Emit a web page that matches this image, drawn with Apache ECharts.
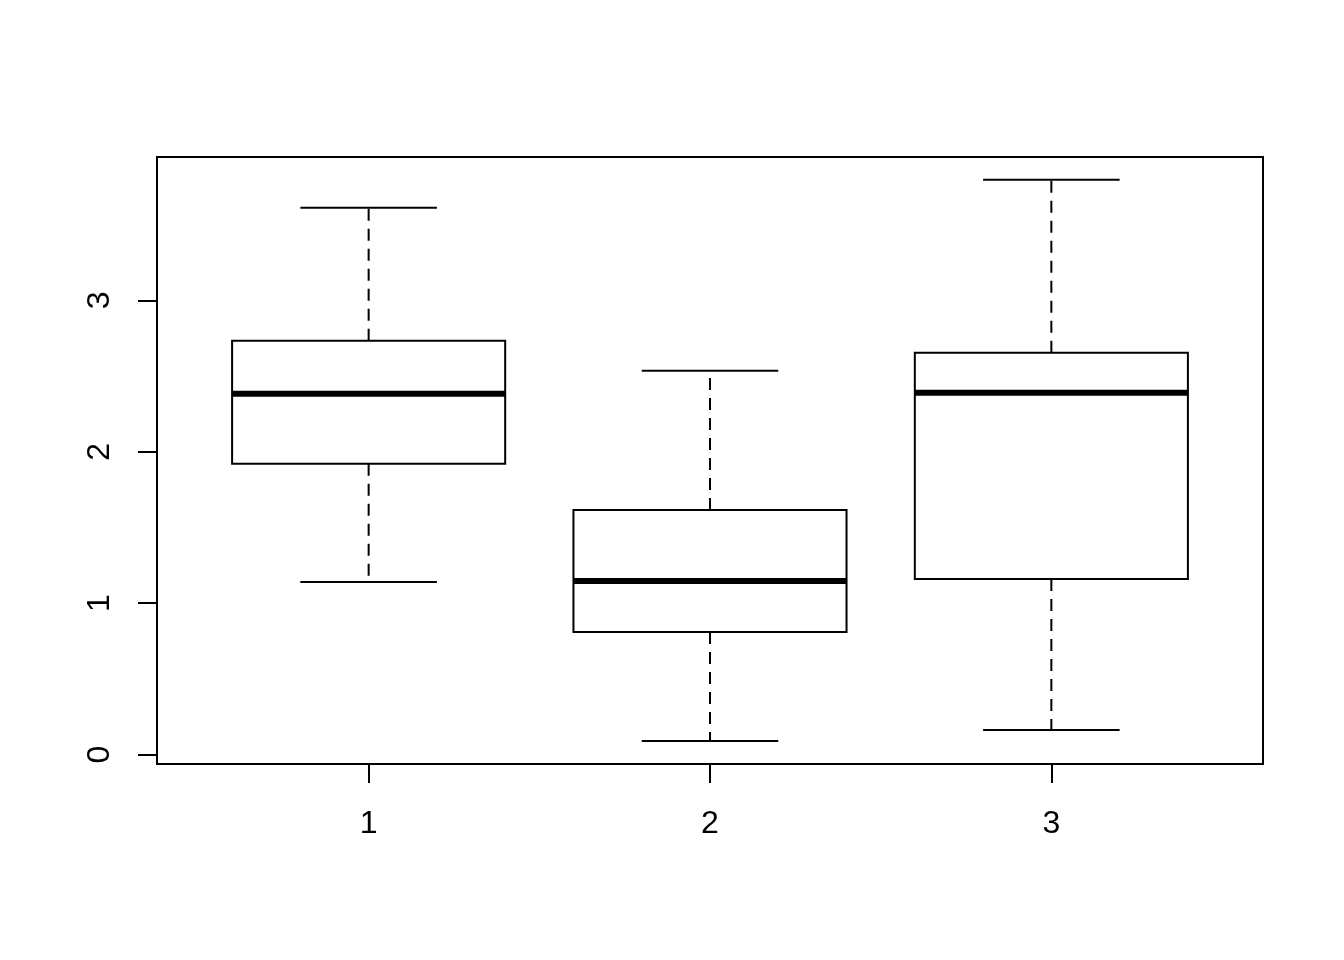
<!DOCTYPE html>
<html>
<head>
<meta charset="utf-8">
<script src="https://cdn.jsdelivr.net/npm/echarts@6/dist/echarts.min.js"></script>
<style>html,body{margin:0;padding:0;background:#fff}#c{width:1344px;height:960px}</style>
</head>
<body>
<div id="c"></div>
<script>
const categories = [1, 2, 3];
const whiskerLow = [1.140, 0.089, 0.162];
const q1 = [1.920, 0.810, 1.160];
const medians = [2.383, 1.147, 2.389];
const q3 = [2.733, 1.616, 2.654];
const whiskerHigh = [3.612, 2.535, 3.797];
const yTicks = [0, 1, 2, 3];

const data = categories.map((c, i) => [c, whiskerLow[i], q1[i], medians[i], q3[i], whiskerHigh[i]]);
const font = "'Liberation Sans', Arial, Helvetica, sans-serif";

const chart = echarts.init(document.getElementById('c'), null, {renderer: 'canvas'});
chart.setOption({
  animation: false,
  backgroundColor: '#fff',
  grid: {left: 157, top: 157, width: 1106, height: 607, show: true, borderColor: '#000', borderWidth: 2, backgroundColor: 'transparent'},
  xAxis: {
    type: 'value', min: 0.38, max: 3.62,
    axisLine: {show: false, onZero: false},
    splitLine: {show: false},
    axisTick: {show: true, customValues: categories, length: 19, lineStyle: {color: '#000', width: 2}},
    axisLabel: {customValues: categories, fontSize: 32, color: '#000', fontFamily: font, margin: 44, lineHeight: 32}
  },
  yAxis: {
    type: 'value', min: -0.0625, max: 3.947,
    axisLine: {show: false, onZero: false},
    splitLine: {show: false},
    axisTick: {show: true, customValues: yTicks, length: 19, lineStyle: {color: '#000', width: 2}},
    axisLabel: {customValues: yTicks, fontSize: 32, color: '#000', fontFamily: font, margin: 41, rotate: 90, lineHeight: 32}
  },
  series: [{
    type: 'custom',
    data: data,
    renderItem: function (params, api) {
      const x = api.value(0);
      const lo = api.value(1), a = api.value(2), m = api.value(3), b = api.value(4), hi = api.value(5);
      const pLo = api.coord([x, lo]), pA = api.coord([x, a]), pM = api.coord([x, m]), pB = api.coord([x, b]), pHi = api.coord([x, hi]);
      const left = api.coord([x - 0.4, 0])[0], right = api.coord([x + 0.4, 0])[0];
      const cl = api.coord([x - 0.2, 0])[0], cr = api.coord([x + 0.2, 0])[0];
      const solid = {stroke: '#000', lineWidth: 2, fill: null};
      const dashed = {stroke: '#000', lineWidth: 2, lineDash: [12, 8], fill: null};
      return {
        type: 'group',
        children: [
          {type: 'line', shape: {x1: pB[0], y1: pB[1], x2: pHi[0], y2: pHi[1]}, style: dashed},
          {type: 'line', shape: {x1: pA[0], y1: pA[1], x2: pLo[0], y2: pLo[1]}, style: dashed},
          {type: 'line', shape: {x1: cl, y1: pHi[1], x2: cr, y2: pHi[1]}, style: solid},
          {type: 'line', shape: {x1: cl, y1: pLo[1], x2: cr, y2: pLo[1]}, style: solid},
          {type: 'rect', shape: {x: left, y: pB[1], width: right - left, height: pA[1] - pB[1]}, style: {stroke: '#000', lineWidth: 2, fill: '#fff'}},
          {type: 'line', shape: {x1: left, y1: pM[1], x2: right, y2: pM[1]}, style: {stroke: '#000', lineWidth: 6}}
        ]
      };
    }
  }]
});
</script>
</body>
</html>
